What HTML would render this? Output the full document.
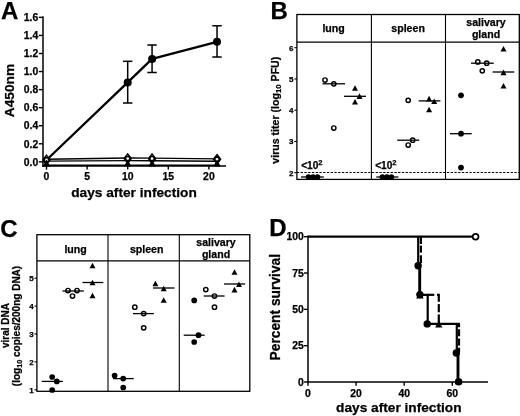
<!DOCTYPE html>
<html><head><meta charset="utf-8"><title>Figure</title>
<style>html,body{margin:0;padding:0;background:#fff}body{width:520px;height:416px;overflow:hidden;font-family:"Liberation Sans",sans-serif}</style></head>
<body>
<svg width="520" height="416" viewBox="0 0 520 416" style="display:block">
<defs><filter id="soft" x="0" y="0" width="520" height="416" filterUnits="userSpaceOnUse"><feGaussianBlur stdDeviation="0.4"/></filter></defs>
<rect width="520" height="416" fill="#fff"/>
<g filter="url(#soft)">
<rect width="520" height="416" fill="#fff"/>
<text x="1" y="18.6" font-size="24" text-anchor="start" font-family="Liberation Sans, sans-serif" font-weight="bold" fill="#000" stroke="#000" stroke-width="0.25" >A</text>
<text x="270.4" y="18.6" font-size="24" text-anchor="start" font-family="Liberation Sans, sans-serif" font-weight="bold" fill="#000" stroke="#000" stroke-width="0.25" >B</text>
<text x="0.3" y="237.3" font-size="24" text-anchor="start" font-family="Liberation Sans, sans-serif" font-weight="bold" fill="#000" stroke="#000" stroke-width="0.25" >C</text>
<text x="269.2" y="235.8" font-size="24" text-anchor="start" font-family="Liberation Sans, sans-serif" font-weight="bold" fill="#000" stroke="#000" stroke-width="0.25" >D</text>
<line x1="43" y1="16.3" x2="43" y2="166.75" stroke="#000" stroke-width="1.5" />
<line x1="42.25" y1="166" x2="226" y2="166" stroke="#000" stroke-width="1.5" />
<line x1="38.8" y1="161.85" x2="43" y2="161.85" stroke="#000" stroke-width="1.4" />
<text x="38.2" y="165.6" font-size="10.4" text-anchor="end" font-family="Liberation Sans, sans-serif" font-weight="bold" fill="#000" stroke="#000" stroke-width="0.25" >0.0</text>
<line x1="38.8" y1="143.79" x2="43" y2="143.79" stroke="#000" stroke-width="1.4" />
<text x="38.2" y="147.54" font-size="10.4" text-anchor="end" font-family="Liberation Sans, sans-serif" font-weight="bold" fill="#000" stroke="#000" stroke-width="0.25" >0.2</text>
<line x1="38.8" y1="125.72999999999999" x2="43" y2="125.72999999999999" stroke="#000" stroke-width="1.4" />
<text x="38.2" y="129.48" font-size="10.4" text-anchor="end" font-family="Liberation Sans, sans-serif" font-weight="bold" fill="#000" stroke="#000" stroke-width="0.25" >0.4</text>
<line x1="38.8" y1="107.66999999999999" x2="43" y2="107.66999999999999" stroke="#000" stroke-width="1.4" />
<text x="38.2" y="111.41999999999999" font-size="10.4" text-anchor="end" font-family="Liberation Sans, sans-serif" font-weight="bold" fill="#000" stroke="#000" stroke-width="0.25" >0.6</text>
<line x1="38.8" y1="89.61" x2="43" y2="89.61" stroke="#000" stroke-width="1.4" />
<text x="38.2" y="93.36" font-size="10.4" text-anchor="end" font-family="Liberation Sans, sans-serif" font-weight="bold" fill="#000" stroke="#000" stroke-width="0.25" >0.8</text>
<line x1="38.8" y1="71.55" x2="43" y2="71.55" stroke="#000" stroke-width="1.4" />
<text x="38.2" y="75.3" font-size="10.4" text-anchor="end" font-family="Liberation Sans, sans-serif" font-weight="bold" fill="#000" stroke="#000" stroke-width="0.25" >1.0</text>
<line x1="38.8" y1="53.48999999999998" x2="43" y2="53.48999999999998" stroke="#000" stroke-width="1.4" />
<text x="38.2" y="57.23999999999998" font-size="10.4" text-anchor="end" font-family="Liberation Sans, sans-serif" font-weight="bold" fill="#000" stroke="#000" stroke-width="0.25" >1.2</text>
<line x1="38.8" y1="35.42999999999999" x2="43" y2="35.42999999999999" stroke="#000" stroke-width="1.4" />
<text x="38.2" y="39.17999999999999" font-size="10.4" text-anchor="end" font-family="Liberation Sans, sans-serif" font-weight="bold" fill="#000" stroke="#000" stroke-width="0.25" >1.4</text>
<line x1="38.8" y1="17.370000000000005" x2="43" y2="17.370000000000005" stroke="#000" stroke-width="1.4" />
<text x="38.2" y="21.120000000000005" font-size="10.4" text-anchor="end" font-family="Liberation Sans, sans-serif" font-weight="bold" fill="#000" stroke="#000" stroke-width="0.25" >1.6</text>
<line x1="46.5" y1="166" x2="46.5" y2="169.6" stroke="#000" stroke-width="1.4" />
<text x="46.5" y="180.1" font-size="10.4" text-anchor="middle" font-family="Liberation Sans, sans-serif" font-weight="bold" fill="#000" stroke="#000" stroke-width="0.25" >0</text>
<line x1="87.1" y1="166" x2="87.1" y2="169.6" stroke="#000" stroke-width="1.4" />
<text x="87.1" y="180.1" font-size="10.4" text-anchor="middle" font-family="Liberation Sans, sans-serif" font-weight="bold" fill="#000" stroke="#000" stroke-width="0.25" >5</text>
<line x1="127.69999999999999" y1="166" x2="127.69999999999999" y2="169.6" stroke="#000" stroke-width="1.4" />
<text x="127.69999999999999" y="180.1" font-size="10.4" text-anchor="middle" font-family="Liberation Sans, sans-serif" font-weight="bold" fill="#000" stroke="#000" stroke-width="0.25" >10</text>
<line x1="168.29999999999998" y1="166" x2="168.29999999999998" y2="169.6" stroke="#000" stroke-width="1.4" />
<text x="168.29999999999998" y="180.1" font-size="10.4" text-anchor="middle" font-family="Liberation Sans, sans-serif" font-weight="bold" fill="#000" stroke="#000" stroke-width="0.25" >15</text>
<line x1="208.89999999999998" y1="166" x2="208.89999999999998" y2="169.6" stroke="#000" stroke-width="1.4" />
<text x="208.89999999999998" y="180.1" font-size="10.4" text-anchor="middle" font-family="Liberation Sans, sans-serif" font-weight="bold" fill="#000" stroke="#000" stroke-width="0.25" >20</text>
<text x="134" y="197" font-size="13.7" text-anchor="middle" font-family="Liberation Sans, sans-serif" font-weight="bold" fill="#000" stroke="#000" stroke-width="0.25" >days after infection</text>
<text transform="translate(13.8,90.5) rotate(-90)" font-size="13.7" text-anchor="middle" font-family="Liberation Sans, sans-serif" font-weight="bold" fill="#000" stroke="#000" stroke-width="0.25">A450nm</text>
<polyline fill="none" stroke="#000" stroke-width="1.5" points="46.5,165.2 127.69999999999999,165.2 152.06,165.2 217.01999999999998,165.2"/>
<polyline fill="none" stroke="#000" stroke-width="1.4" points="46.5,161.1 127.69999999999999,160.6 152.06,160.7 217.01999999999998,161.2"/>
<polyline fill="none" stroke="#000" stroke-width="1.4" points="46.5,159.2 127.69999999999999,158.0 152.06,158.1 217.01999999999998,158.9"/>
<polyline fill="none" stroke="#000" stroke-width="2.3" stroke-linejoin="round" points="46.5,160.0 127.7,82.4 152.1,58.9 217.0,41.8"/>
<line x1="127.69999999999999" y1="61.3" x2="127.69999999999999" y2="103" stroke="#000" stroke-width="1.5" />
<line x1="122.99999999999999" y1="61.3" x2="132.39999999999998" y2="61.3" stroke="#000" stroke-width="1.5" />
<line x1="122.99999999999999" y1="103" x2="132.39999999999998" y2="103" stroke="#000" stroke-width="1.5" />
<line x1="152.06" y1="45" x2="152.06" y2="72.5" stroke="#000" stroke-width="1.5" />
<line x1="147.36" y1="45" x2="156.76" y2="45" stroke="#000" stroke-width="1.5" />
<line x1="147.36" y1="72.5" x2="156.76" y2="72.5" stroke="#000" stroke-width="1.5" />
<line x1="217.01999999999998" y1="25.8" x2="217.01999999999998" y2="57" stroke="#000" stroke-width="1.5" />
<line x1="212.32" y1="25.8" x2="221.71999999999997" y2="25.8" stroke="#000" stroke-width="1.5" />
<line x1="212.32" y1="57" x2="221.71999999999997" y2="57" stroke="#000" stroke-width="1.5" />
<circle cx="127.7" cy="82.4" r="4" fill="#000"/>
<circle cx="152.1" cy="58.9" r="4" fill="#000"/>
<circle cx="217.0" cy="41.8" r="4" fill="#000"/>
<path d="M46.5 155.1L50.2 159.9L46.5 164.5L42.8 159.9Z" fill="#fff" stroke="#000" stroke-width="1.3"/>
<circle cx="46.5" cy="159.9" r="2.3" fill="#fff" stroke="#000" stroke-width="1.8"/>
<path d="M42.8 166.5L50.2 166.5L46.5 159.4Z" fill="#000"/>
<path d="M127.69999999999999 153.8L131.39999999999998 158.6L127.69999999999999 163.2L123.99999999999999 158.6Z" fill="#fff" stroke="#000" stroke-width="1.3"/>
<circle cx="127.69999999999999" cy="158.6" r="2.3" fill="#fff" stroke="#000" stroke-width="1.8"/>
<path d="M123.99999999999999 166.5L131.39999999999998 166.5L127.69999999999999 159.4Z" fill="#000"/>
<path d="M152.06 153.9L155.76 158.7L152.06 163.3L148.36 158.7Z" fill="#fff" stroke="#000" stroke-width="1.3"/>
<circle cx="152.06" cy="158.7" r="2.3" fill="#fff" stroke="#000" stroke-width="1.8"/>
<path d="M148.36 166.5L155.76 166.5L152.06 159.4Z" fill="#000"/>
<path d="M217.01999999999998 154.5L220.71999999999997 159.3L217.01999999999998 163.9L213.32 159.3Z" fill="#fff" stroke="#000" stroke-width="1.3"/>
<circle cx="217.01999999999998" cy="159.3" r="2.3" fill="#fff" stroke="#000" stroke-width="1.8"/>
<path d="M213.32 166.5L220.71999999999997 166.5L217.01999999999998 159.4Z" fill="#000"/>
<rect x="296.9" y="14.5" width="222.39999999999998" height="164.9" fill="none" stroke="#000" stroke-width="1.3"/>
<line x1="296.9" y1="42.1" x2="519.3" y2="42.1" stroke="#000" stroke-width="1.3" />
<line x1="371.4" y1="14.5" x2="371.4" y2="179.4" stroke="#000" stroke-width="1.1" />
<line x1="445.5" y1="14.5" x2="445.5" y2="179.4" stroke="#000" stroke-width="1.1" />
<text x="333.6" y="32.2" font-size="10.6" text-anchor="middle" font-family="Liberation Sans, sans-serif" font-weight="bold" fill="#000" stroke="#000" stroke-width="0.25" >lung</text>
<text x="408.1" y="32.0" font-size="10.6" text-anchor="middle" font-family="Liberation Sans, sans-serif" font-weight="bold" fill="#000" stroke="#000" stroke-width="0.25" >spleen</text>
<text x="486" y="26.2" font-size="10.6" text-anchor="middle" font-family="Liberation Sans, sans-serif" font-weight="bold" fill="#000" stroke="#000" stroke-width="0.25" >salivary</text>
<text x="486" y="38.2" font-size="10.6" text-anchor="middle" font-family="Liberation Sans, sans-serif" font-weight="bold" fill="#000" stroke="#000" stroke-width="0.25" >gland</text>
<line x1="294.3" y1="172.7" x2="296.9" y2="172.7" stroke="#000" stroke-width="1.1" />
<text x="293.4" y="175.6" font-size="8" text-anchor="end" font-family="Liberation Sans, sans-serif" font-weight="bold" fill="#000" stroke="#000" stroke-width="0.25" >2</text>
<line x1="294.3" y1="141.45" x2="296.9" y2="141.45" stroke="#000" stroke-width="1.1" />
<text x="293.4" y="144.35" font-size="8" text-anchor="end" font-family="Liberation Sans, sans-serif" font-weight="bold" fill="#000" stroke="#000" stroke-width="0.25" >3</text>
<line x1="294.3" y1="110.19999999999999" x2="296.9" y2="110.19999999999999" stroke="#000" stroke-width="1.1" />
<text x="293.4" y="113.1" font-size="8" text-anchor="end" font-family="Liberation Sans, sans-serif" font-weight="bold" fill="#000" stroke="#000" stroke-width="0.25" >4</text>
<line x1="294.3" y1="78.94999999999999" x2="296.9" y2="78.94999999999999" stroke="#000" stroke-width="1.1" />
<text x="293.4" y="81.85" font-size="8" text-anchor="end" font-family="Liberation Sans, sans-serif" font-weight="bold" fill="#000" stroke="#000" stroke-width="0.25" >5</text>
<line x1="294.3" y1="47.69999999999999" x2="296.9" y2="47.69999999999999" stroke="#000" stroke-width="1.1" />
<text x="293.4" y="50.59999999999999" font-size="8" text-anchor="end" font-family="Liberation Sans, sans-serif" font-weight="bold" fill="#000" stroke="#000" stroke-width="0.25" >6</text>
<line x1="296.9" y1="172.5" x2="519.3" y2="172.5" stroke="#000" stroke-width="1.2" stroke-dasharray="2.3 1.45"/>
<text transform="translate(278.6,110.2) rotate(-90)" font-size="10.6" text-anchor="middle" font-family="Liberation Sans, sans-serif" font-weight="bold" fill="#000" stroke="#000" stroke-width="0.25">virus titer (log<tspan font-size="7.8" dy="2">10</tspan><tspan dy="-2"> PFU)</tspan></text>
<text x="301.2" y="169.0" font-size="10.1" font-family="Liberation Sans, sans-serif" font-weight="bold" fill="#000" stroke="#000" stroke-width="0.25">&lt;10<tspan font-size="7.6" dy="-4">2</tspan></text>
<text x="375.2" y="169.0" font-size="10.1" font-family="Liberation Sans, sans-serif" font-weight="bold" fill="#000" stroke="#000" stroke-width="0.25">&lt;10<tspan font-size="7.6" dy="-4">2</tspan></text>
<line x1="301" y1="177" x2="323.8" y2="177" stroke="#000" stroke-width="1.3" />
<circle cx="308.5" cy="177" r="2.8" fill="#000"/>
<circle cx="313" cy="177" r="2.8" fill="#000"/>
<circle cx="317.5" cy="177" r="2.8" fill="#000"/>
<line x1="322.5" y1="83.8" x2="345" y2="83.8" stroke="#000" stroke-width="1.3" />
<circle cx="325" cy="80" r="2.15" fill="none" stroke="#000" stroke-width="1.45"/>
<circle cx="333.8" cy="83.8" r="2.15" fill="none" stroke="#000" stroke-width="1.45"/>
<circle cx="333.8" cy="128" r="2.15" fill="none" stroke="#000" stroke-width="1.45"/>
<line x1="344" y1="96.3" x2="366" y2="96.3" stroke="#000" stroke-width="1.3" />
<path d="M352.00 90.80L358.00 90.80L355.00 85.20Z" fill="#000"/>
<path d="M356.50 98.90L362.50 98.90L359.50 93.30Z" fill="#000"/>
<path d="M352.00 104.60L358.00 104.60L355.00 99.00Z" fill="#000"/>
<line x1="376.3" y1="177" x2="398.4" y2="177" stroke="#000" stroke-width="1.3" />
<circle cx="382.4" cy="177" r="2.8" fill="#000"/>
<circle cx="386.9" cy="177" r="2.8" fill="#000"/>
<circle cx="391.4" cy="177" r="2.8" fill="#000"/>
<line x1="397.2" y1="140.2" x2="419.2" y2="140.2" stroke="#000" stroke-width="1.3" />
<circle cx="408.2" cy="100.3" r="2.15" fill="none" stroke="#000" stroke-width="1.45"/>
<circle cx="412.7" cy="140.2" r="2.15" fill="none" stroke="#000" stroke-width="1.45"/>
<circle cx="408.2" cy="145" r="2.15" fill="none" stroke="#000" stroke-width="1.45"/>
<line x1="418.7" y1="100.9" x2="440.4" y2="100.9" stroke="#000" stroke-width="1.3" />
<path d="M426.10 101.40L432.10 101.40L429.10 95.80Z" fill="#000"/>
<path d="M431.20 104.10L437.20 104.10L434.20 98.50Z" fill="#000"/>
<path d="M426.10 112.30L432.10 112.30L429.10 106.70Z" fill="#000"/>
<line x1="450" y1="133.7" x2="471.7" y2="133.7" stroke="#000" stroke-width="1.3" />
<circle cx="461" cy="95.3" r="2.85" fill="#000"/>
<circle cx="461" cy="133.7" r="2.85" fill="#000"/>
<circle cx="461" cy="167.6" r="2.85" fill="#000"/>
<line x1="471" y1="63.2" x2="493.8" y2="63.2" stroke="#000" stroke-width="1.3" />
<circle cx="477.8" cy="61.9" r="2.15" fill="none" stroke="#000" stroke-width="1.45"/>
<circle cx="486.7" cy="63.2" r="2.15" fill="none" stroke="#000" stroke-width="1.45"/>
<circle cx="482.3" cy="70.8" r="2.15" fill="none" stroke="#000" stroke-width="1.45"/>
<line x1="492.6" y1="72" x2="514.3" y2="72" stroke="#000" stroke-width="1.3" />
<path d="M500.50 51.50L506.50 51.50L503.50 45.90Z" fill="#000"/>
<path d="M500.50 75.20L506.50 75.20L503.50 69.60Z" fill="#000"/>
<path d="M500.50 88.50L506.50 88.50L503.50 82.90Z" fill="#000"/>
<rect x="36.9" y="234.7" width="212.9" height="156.60000000000002" fill="none" stroke="#000" stroke-width="1.3"/>
<line x1="36.9" y1="260.8" x2="249.8" y2="260.8" stroke="#000" stroke-width="1.3" />
<line x1="108" y1="234.7" x2="108" y2="391.3" stroke="#000" stroke-width="1.1" />
<line x1="179.3" y1="234.7" x2="179.3" y2="391.3" stroke="#000" stroke-width="1.1" />
<text x="75.6" y="252.5" font-size="10.6" text-anchor="middle" font-family="Liberation Sans, sans-serif" font-weight="bold" fill="#000" stroke="#000" stroke-width="0.25" >lung</text>
<text x="146.7" y="252.5" font-size="10.6" text-anchor="middle" font-family="Liberation Sans, sans-serif" font-weight="bold" fill="#000" stroke="#000" stroke-width="0.25" >spleen</text>
<text x="216" y="245.7" font-size="10.6" text-anchor="middle" font-family="Liberation Sans, sans-serif" font-weight="bold" fill="#000" stroke="#000" stroke-width="0.25" >salivary</text>
<text x="216" y="257.7" font-size="10.6" text-anchor="middle" font-family="Liberation Sans, sans-serif" font-weight="bold" fill="#000" stroke="#000" stroke-width="0.25" >gland</text>
<line x1="34.5" y1="389.8" x2="36.9" y2="389.8" stroke="#000" stroke-width="1.1" />
<text x="33.6" y="392.7" font-size="8" text-anchor="end" font-family="Liberation Sans, sans-serif" font-weight="bold" fill="#000" stroke="#000" stroke-width="0.25" >1</text>
<line x1="34.5" y1="361.90000000000003" x2="36.9" y2="361.90000000000003" stroke="#000" stroke-width="1.1" />
<text x="33.6" y="364.8" font-size="8" text-anchor="end" font-family="Liberation Sans, sans-serif" font-weight="bold" fill="#000" stroke="#000" stroke-width="0.25" >2</text>
<line x1="34.5" y1="334.0" x2="36.9" y2="334.0" stroke="#000" stroke-width="1.1" />
<text x="33.6" y="336.9" font-size="8" text-anchor="end" font-family="Liberation Sans, sans-serif" font-weight="bold" fill="#000" stroke="#000" stroke-width="0.25" >3</text>
<line x1="34.5" y1="306.1" x2="36.9" y2="306.1" stroke="#000" stroke-width="1.1" />
<text x="33.6" y="309.0" font-size="8" text-anchor="end" font-family="Liberation Sans, sans-serif" font-weight="bold" fill="#000" stroke="#000" stroke-width="0.25" >4</text>
<line x1="34.5" y1="278.20000000000005" x2="36.9" y2="278.20000000000005" stroke="#000" stroke-width="1.1" />
<text x="33.6" y="281.1" font-size="8" text-anchor="end" font-family="Liberation Sans, sans-serif" font-weight="bold" fill="#000" stroke="#000" stroke-width="0.25" >5</text>
<text transform="translate(9.3,325.5) rotate(-90)" font-size="10" text-anchor="middle" font-family="Liberation Sans, sans-serif" font-weight="bold" fill="#000" stroke="#000" stroke-width="0.25">viral DNA</text>
<text transform="translate(19.7,326) rotate(-90)" font-size="10" text-anchor="middle" font-family="Liberation Sans, sans-serif" font-weight="bold" fill="#000" stroke="#000" stroke-width="0.25">(log<tspan font-size="7.3" dy="1.8">10</tspan><tspan dy="-1.8"> copies/200ng DNA)</tspan></text>
<line x1="41.7" y1="381.4" x2="62.9" y2="381.4" stroke="#000" stroke-width="1.3" />
<circle cx="52.2" cy="377" r="2.85" fill="#000"/>
<circle cx="56.8" cy="381.4" r="2.85" fill="#000"/>
<circle cx="52.2" cy="390" r="2.85" fill="#000"/>
<line x1="62.5" y1="291" x2="83.8" y2="291" stroke="#000" stroke-width="1.3" />
<circle cx="68" cy="290.5" r="2.15" fill="none" stroke="#000" stroke-width="1.45"/>
<circle cx="77" cy="290.5" r="2.15" fill="none" stroke="#000" stroke-width="1.45"/>
<circle cx="72.5" cy="296" r="2.15" fill="none" stroke="#000" stroke-width="1.45"/>
<line x1="82.5" y1="282.5" x2="103.3" y2="282.5" stroke="#000" stroke-width="1.3" />
<path d="M89.50 268.30L95.50 268.30L92.50 262.70Z" fill="#000"/>
<path d="M89.50 285.30L95.50 285.30L92.50 279.70Z" fill="#000"/>
<path d="M89.50 298.30L95.50 298.30L92.50 292.70Z" fill="#000"/>
<line x1="113" y1="378.6" x2="133.7" y2="378.6" stroke="#000" stroke-width="1.3" />
<circle cx="114.6" cy="375.5" r="2.85" fill="#000"/>
<circle cx="123.2" cy="378.6" r="2.85" fill="#000"/>
<circle cx="123.2" cy="387.5" r="2.85" fill="#000"/>
<line x1="133" y1="313.6" x2="153.8" y2="313.6" stroke="#000" stroke-width="1.3" />
<circle cx="134.8" cy="307.2" r="2.15" fill="none" stroke="#000" stroke-width="1.45"/>
<circle cx="143.7" cy="313.6" r="2.15" fill="none" stroke="#000" stroke-width="1.45"/>
<circle cx="143.7" cy="327.8" r="2.15" fill="none" stroke="#000" stroke-width="1.45"/>
<line x1="153" y1="288" x2="174.5" y2="288" stroke="#000" stroke-width="1.3" />
<path d="M152.40 286.30L158.40 286.30L155.40 280.70Z" fill="#000"/>
<path d="M160.70 291.30L166.70 291.30L163.70 285.70Z" fill="#000"/>
<path d="M160.70 302.80L166.70 302.80L163.70 297.20Z" fill="#000"/>
<line x1="183.7" y1="335.2" x2="204.6" y2="335.2" stroke="#000" stroke-width="1.3" />
<circle cx="194.2" cy="300.4" r="2.85" fill="#000"/>
<circle cx="198.5" cy="335.2" r="2.85" fill="#000"/>
<circle cx="194.2" cy="342" r="2.85" fill="#000"/>
<line x1="203.7" y1="296" x2="224.6" y2="296" stroke="#000" stroke-width="1.3" />
<circle cx="205.8" cy="289.6" r="2.15" fill="none" stroke="#000" stroke-width="1.45"/>
<circle cx="214.5" cy="296" r="2.15" fill="none" stroke="#000" stroke-width="1.45"/>
<circle cx="214.5" cy="307.2" r="2.15" fill="none" stroke="#000" stroke-width="1.45"/>
<line x1="224" y1="284" x2="245.2" y2="284" stroke="#000" stroke-width="1.3" />
<path d="M231.50 274.80L237.50 274.80L234.50 269.20Z" fill="#000"/>
<path d="M236.00 287.00L242.00 287.00L239.00 281.40Z" fill="#000"/>
<path d="M231.50 292.40L237.50 292.40L234.50 286.80Z" fill="#000"/>
<line x1="308" y1="235.6" x2="308" y2="382.75" stroke="#000" stroke-width="1.5" />
<line x1="307.25" y1="382" x2="488" y2="382" stroke="#000" stroke-width="1.5" />
<line x1="304" y1="382.0" x2="308" y2="382.0" stroke="#000" stroke-width="1.4" />
<text x="303.9" y="385.75" font-size="10.4" text-anchor="end" font-family="Liberation Sans, sans-serif" font-weight="bold" fill="#000" stroke="#000" stroke-width="0.25" >0</text>
<line x1="304" y1="345.675" x2="308" y2="345.675" stroke="#000" stroke-width="1.4" />
<text x="303.9" y="349.425" font-size="10.4" text-anchor="end" font-family="Liberation Sans, sans-serif" font-weight="bold" fill="#000" stroke="#000" stroke-width="0.25" >25</text>
<line x1="304" y1="309.35" x2="308" y2="309.35" stroke="#000" stroke-width="1.4" />
<text x="303.9" y="313.1" font-size="10.4" text-anchor="end" font-family="Liberation Sans, sans-serif" font-weight="bold" fill="#000" stroke="#000" stroke-width="0.25" >50</text>
<line x1="304" y1="273.025" x2="308" y2="273.025" stroke="#000" stroke-width="1.4" />
<text x="303.9" y="276.775" font-size="10.4" text-anchor="end" font-family="Liberation Sans, sans-serif" font-weight="bold" fill="#000" stroke="#000" stroke-width="0.25" >75</text>
<line x1="304" y1="236.7" x2="308" y2="236.7" stroke="#000" stroke-width="1.4" />
<text x="303.9" y="240.45" font-size="10.4" text-anchor="end" font-family="Liberation Sans, sans-serif" font-weight="bold" fill="#000" stroke="#000" stroke-width="0.25" >100</text>
<line x1="308.0" y1="382" x2="308.0" y2="385.8" stroke="#000" stroke-width="1.4" />
<text x="308.0" y="396.6" font-size="10.4" text-anchor="middle" font-family="Liberation Sans, sans-serif" font-weight="bold" fill="#000" stroke="#000" stroke-width="0.25" >0</text>
<line x1="356.1" y1="382" x2="356.1" y2="385.8" stroke="#000" stroke-width="1.4" />
<text x="356.1" y="396.6" font-size="10.4" text-anchor="middle" font-family="Liberation Sans, sans-serif" font-weight="bold" fill="#000" stroke="#000" stroke-width="0.25" >20</text>
<line x1="404.2" y1="382" x2="404.2" y2="385.8" stroke="#000" stroke-width="1.4" />
<text x="404.2" y="396.6" font-size="10.4" text-anchor="middle" font-family="Liberation Sans, sans-serif" font-weight="bold" fill="#000" stroke="#000" stroke-width="0.25" >40</text>
<line x1="452.29999999999995" y1="382" x2="452.29999999999995" y2="385.8" stroke="#000" stroke-width="1.4" />
<text x="452.29999999999995" y="396.6" font-size="10.4" text-anchor="middle" font-family="Liberation Sans, sans-serif" font-weight="bold" fill="#000" stroke="#000" stroke-width="0.25" >60</text>
<text x="398.8" y="412" font-size="13.7" text-anchor="middle" font-family="Liberation Sans, sans-serif" font-weight="bold" fill="#000" stroke="#000" stroke-width="0.25" >days after infection</text>
<text transform="translate(279.6,307.2) rotate(-90)" font-size="13.8" text-anchor="middle" font-family="Liberation Sans, sans-serif" font-weight="bold" fill="#000" stroke="#000" stroke-width="0.25">Percent survival</text>
<line x1="308" y1="236.7" x2="472.5" y2="236.7" stroke="#000" stroke-width="2.2" />
<circle cx="475.6" cy="236.7" r="2.9" fill="#fff" stroke="#000" stroke-width="1.7"/>
<path fill="none" stroke="#000" stroke-width="2.2" stroke-linejoin="miter" d="M418.2 236.7V265.8"/>
<path fill="none" stroke="#000" stroke-width="2.9" d="M419.7 265.8V294.8"/>
<path fill="none" stroke="#000" stroke-width="2.2" d="M419.7 294.8H427.7V323.9H459.9"/>
<path fill="none" stroke="#000" stroke-width="2.2" d="M456.8 323.9V352.9"/>
<path fill="none" stroke="#000" stroke-width="2.9" d="M458 352.9V382.0"/>
<line x1="420.9" y1="236.7" x2="420.9" y2="244" stroke="#000" stroke-width="2.2" />
<line x1="420.9" y1="245.6" x2="420.9" y2="252.6" stroke="#000" stroke-width="2.2" />
<line x1="420.9" y1="255.3" x2="420.9" y2="263" stroke="#000" stroke-width="2.2" />
<line x1="427.7" y1="294.82" x2="434.3" y2="294.82" stroke="#000" stroke-width="2.2" />
<line x1="437" y1="294.82" x2="439.9" y2="294.82" stroke="#000" stroke-width="2.2" />
<line x1="438.8" y1="294.82" x2="438.8" y2="301.8" stroke="#000" stroke-width="2.2" />
<line x1="438.8" y1="304.1" x2="438.8" y2="312.3" stroke="#000" stroke-width="2.2" />
<line x1="438.8" y1="314.4" x2="438.8" y2="323.88" stroke="#000" stroke-width="2.2" />
<line x1="459" y1="323.88" x2="459" y2="327.2" stroke="#000" stroke-width="2.2" />
<line x1="459" y1="329.2" x2="459" y2="336.3" stroke="#000" stroke-width="2.2" />
<line x1="459" y1="338.5" x2="459" y2="345.6" stroke="#000" stroke-width="2.2" />
<line x1="459" y1="347.7" x2="459" y2="352" stroke="#000" stroke-width="2.2" />
<circle cx="418.1" cy="265.76" r="3.7" fill="#000"/>
<circle cx="419.9" cy="294.62" r="3.7" fill="#000"/>
<circle cx="427.2" cy="323.88" r="3.7" fill="#000"/>
<circle cx="456.3" cy="352.94" r="3.7" fill="#000"/>
<circle cx="458.6" cy="381.7" r="3.7" fill="#000"/>
<path d="M416.10 298.62L423.70 298.62L419.90 292.22Z" fill="#000"/>
<path d="M435.10 327.48L442.50 327.48L438.80 321.08Z" fill="#000"/>
<path d="M454.60 384.30L462.60 384.30L458.60 377.90Z" fill="#000"/>
</g>
</svg>
</body></html>
